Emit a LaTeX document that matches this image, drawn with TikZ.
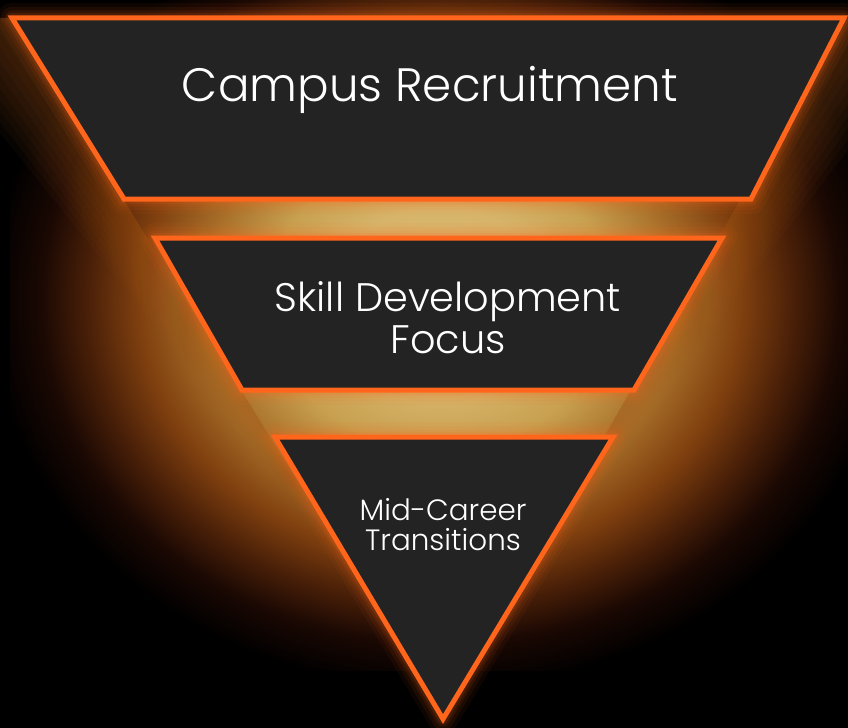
\documentclass[tikz,border=0pt]{standalone}
\usepackage{fontspec}
\setmainfont{Poppins Light}
\definecolor{stagefill}{HTML}{232324}
\definecolor{rim}{HTML}{FF661C}
\definecolor{ember}{HTML}{A85A1A}
\definecolor{glowA}{HTML}{DCBC74}
\definecolor{glowB}{HTML}{D6B46A}
\definecolor{glowC}{HTML}{C8A050}
\definecolor{glowD}{HTML}{A8702A}
\definecolor{glowE}{HTML}{80400F}
\definecolor{glowF}{HTML}{4A2008}
\definecolor{glowG}{HTML}{1A0803}
% warm light behind the funnel; 25bp is the edge of the shaded box
\pgfdeclareradialshading{warmglow}{\pgfpoint{0bp}{0bp}}{%
  color(0bp)=(glowA); color(6.25bp)=(glowB); color(10bp)=(glowC);
  color(13.75bp)=(glowD); color(17.5bp)=(glowE); color(20.5bp)=(glowF);
  color(23.25bp)=(glowG); color(26.25bp)=(black); color(50bp)=(black)}
\begin{document}
\begin{tikzpicture}[x=1bp,y=-1bp,
  stage/.style={fill=stagefill, draw=rim, line width=5bp, line join=miter},
  halo/.style={draw=rim, line join=round},
  caption/.style={text=white, align=center, inner sep=0pt}]
\useasboundingbox (0,0) rectangle (848,728);
\fill[black] (0,0) rectangle (848,728);
\begin{scope}
  \clip (0,0) rectangle (848,728);
  \shade[shading=warmglow] (10,-70) rectangle (870,670);
\end{scope}

% corners of the three stages
\coordinate (a1) at (12,18);  \coordinate (b1) at (844,18);
\coordinate (c1) at (751,199); \coordinate (d1) at (124,199);
\coordinate (a2) at (155,238); \coordinate (b2) at (722,238);
\coordinate (c2) at (634,390); \coordinate (d2) at (242,390);
\coordinate (a3) at (275,437); \coordinate (b3) at (613,437);
\coordinate (c3) at (443,719);

% glow along the outside of the funnel, thinning out toward the tip
\foreach \d in {15,30,...,150}{
  \fill[ember, opacity=0.05, even odd rule]
    (12-0.7*\d,18) -- (844+0.7*\d,18) -- (534,560) -- (443,719) -- (345,560) -- cycle
    (a1) -- (b1) -- (c3) -- cycle;
}

% soft orange halo around each stage
\foreach \w/\o in {30/0.05, 22/0.07, 15/0.09, 10/0.12}{
  \draw[halo, line width=\w bp, opacity=\o] (a1) -- (b1) -- (c1) -- (d1) -- cycle;
  \draw[halo, line width=\w bp, opacity=\o] (a2) -- (b2) -- (c2) -- (d2) -- cycle;
  \draw[halo, line width=\w bp, opacity=\o] (a3) -- (b3) -- (c3) -- cycle;
}

% the stages
\draw[stage] (a1) -- (b1) -- (c1) -- (d1) -- cycle;
\draw[stage] (a2) -- (b2) -- (c2) -- (d2) -- cycle;
\draw[stage] (a3) -- (b3) -- (c3) -- cycle;

% labels
\node[caption, anchor=base, font=\fontsize{47}{56}\selectfont] (t1) at (430,102) {Campus Recruitment};
\node[caption, font=\fontsize{40}{42}\selectfont] (t2) at (448,318) {Skill Development\\Focus};
\node[caption, font=\fontsize{29.5}{30}\selectfont] (t3) at (443,525) {Mid-Career\\Transitions};
\end{tikzpicture}
\end{document}
